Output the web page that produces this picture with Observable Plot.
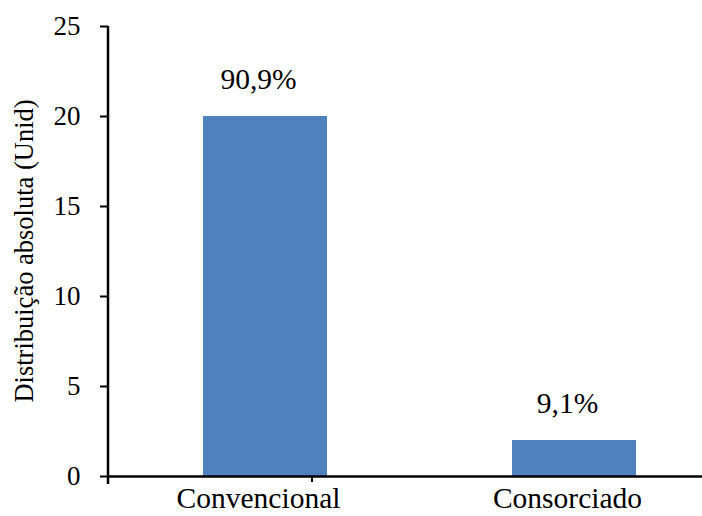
<!DOCTYPE html>
<html><head><meta charset="utf-8">
<script src="https://cdn.jsdelivr.net/npm/d3@7"></script>
<script src="https://cdn.jsdelivr.net/npm/@observablehq/plot@0.6"></script>
<style>
body{margin:0;background:#fff;}
#chart svg{display:block;}
</style>
</head><body><div id="chart"></div>
<script>
const categories = ["Convencional", "Consorciado"];
const values = [20, 2];
const percentLabels = ["90,9%", "9,1%"];
const yTicks = [0, 5, 10, 15, 20, 25];
const yLabel = "Distribuição absoluta (Unid)";

const data = categories.map((c, i) => ({cat: c, v: values[i], lab: percentLabels[i]}));
const font = "'Liberation Serif', 'Times New Roman', serif";
const blue = "#4F81BD";

const W = 702, H = 516, ML = 108, MT = 26, MB = 40;

const plot = Plot.plot({
  width: W, height: H,
  marginLeft: ML, marginRight: 0, marginTop: MT, marginBottom: MB,
  style: {fontFamily: font, background: "#fff", color: "#000", overflow: "visible"},
  x: {domain: categories, range: [ML, 731], paddingInner: 0.6, paddingOuter: 0.305, align: 0.5},
  y: {domain: [0, 25], ticks: yTicks},
  marks: [
    Plot.barY(data, {x: "cat", y: "v", fill: blue}),
    Plot.text(data, {x: "cat", y: "v", text: "lab", dy: -37, dx: -7, fontSize: 29.5, fill: "#000"}),
    Plot.axisY({ticks: yTicks, tickSize: 8, tickPadding: 20, fontSize: 27, stroke: "#000", strokeWidth: 2, label: null, fill: "#000"}),
    Plot.axisX({tickSize: 0, tickPadding: 11, fontSize: 29.5, label: null, fill: "#000", dx: -7}),
    Plot.ruleY([0], {stroke: "#000", strokeWidth: 2.5}),
    (index, scales, values, dims) => {
      const g = d3.create("svg:g");
      g.append("line").attr("x1", dims.marginLeft).attr("x2", dims.marginLeft)
        .attr("y1", dims.marginTop).attr("y2", dims.height - dims.marginBottom + 8)
        .attr("stroke", "#000").attr("stroke-width", 2.5);
      const y0 = dims.height - dims.marginBottom;
      const xDiv = dims.marginLeft + 204;
      g.append("line").attr("x1", xDiv).attr("x2", xDiv).attr("y1", y0).attr("y2", y0 + 6)
        .attr("stroke", "#000").attr("stroke-width", 2);
      g.append("text")
        .attr("transform", `translate(${27},${(dims.marginTop + y0) / 2}) rotate(-90)`)
        .attr("text-anchor", "middle").attr("dominant-baseline", "middle")
        .attr("font-size", 26.5).attr("font-family", font).attr("fill", "#000")
        .text(yLabel);
      return g.node();
    }
  ]
});
document.getElementById("chart").appendChild(plot);
</script></body></html>
